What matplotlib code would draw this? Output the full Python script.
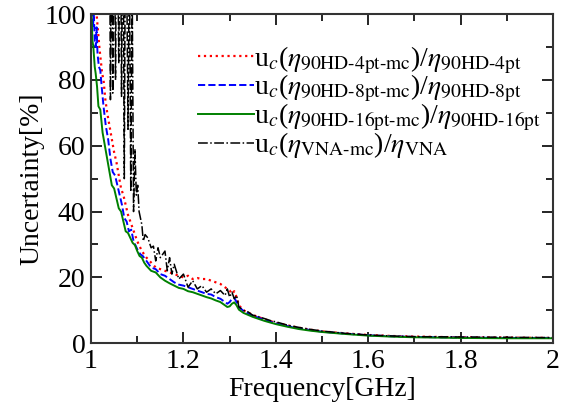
import matplotlib.pyplot as plt
from matplotlib.ticker import MultipleLocator

plt.rcParams['font.family'] = ['Liberation Serif', 'DejaVu Serif']
plt.rcParams['mathtext.fontset'] = 'stix'

# 4pt expanded uncertainty (red dotted)
f_4pt = [1.000, 1.012, 1.015, 1.018, 1.021, 1.024, 1.027, 1.031, 1.035, 1.040,
         1.045, 1.050, 1.055, 1.060, 1.065, 1.070, 1.075, 1.080, 1.085, 1.090,
         1.095, 1.100, 1.105, 1.110, 1.120, 1.130, 1.140, 1.150, 1.160, 1.170,
         1.180, 1.190, 1.200, 1.210, 1.220, 1.230, 1.240, 1.250, 1.260, 1.270,
         1.280, 1.290, 1.300, 1.305, 1.310, 1.315, 1.320, 1.330, 1.340, 1.350,
         1.375, 1.400, 1.425, 1.450, 1.475, 1.500, 1.550, 1.600, 1.650, 1.700,
         1.800, 1.900, 2.000]
u_4pt = [110, 100, 95, 90, 86, 82, 80, 74, 70, 66,
         62, 58, 55, 51, 47, 45, 42, 39, 37, 35,
         33, 31, 29.5, 28, 26, 24.5, 23, 22.5, 22, 21.5,
         21, 20.5, 20, 20.5, 19.5, 19.8, 19.5, 19.5, 19, 18.5,
         18, 17, 16, 15, 15.8, 14, 11.5, 10, 9.3, 8.6,
         7.3, 6.2, 5.4, 4.7, 4.1, 3.6, 3.0, 2.5, 2.2, 2.0,
         1.8, 1.7, 1.6]

# 8pt (blue dashed)
f_8pt = [1.000, 1.004, 1.006, 1.008, 1.010, 1.012, 1.014, 1.017, 1.020, 1.023,
         1.027, 1.032, 1.037, 1.042, 1.047, 1.052, 1.057, 1.062, 1.067, 1.072,
         1.077, 1.082, 1.087, 1.092, 1.097, 1.102, 1.107, 1.112, 1.120, 1.130,
         1.140, 1.150, 1.160, 1.170, 1.180, 1.190, 1.200, 1.210, 1.220, 1.230,
         1.240, 1.250, 1.260, 1.270, 1.280, 1.290, 1.295, 1.300, 1.305, 1.310,
         1.315, 1.320, 1.330, 1.340, 1.350, 1.375, 1.400, 1.425, 1.450, 1.475,
         1.500, 1.550, 1.600, 1.650, 1.700, 1.800, 1.900, 2.000]
u_8pt = [105, 96, 100, 92, 90, 96, 88, 84, 83, 78,
         72, 66, 62, 56, 52, 51, 48, 45, 42, 38,
         37, 34, 34.5, 31, 29.5, 28, 27, 26.5, 25, 23,
         22.5, 21, 20.5, 19.5, 18.5, 17.8, 17.5, 17, 16.5, 16,
         15.5, 15, 14.8, 14, 13.5, 12.5, 12, 12.5, 13.5, 13.8,
         12.5, 11, 9.8, 9, 8.4, 7.1, 6, 5.2, 4.5, 4,
         3.5, 2.9, 2.4, 2.1, 1.9, 1.7, 1.6, 1.6]

# 16pt (green solid)
f_16pt = [1.000, 1.003, 1.005, 1.008, 1.010, 1.013, 1.016, 1.020, 1.025, 1.030,
          1.035, 1.040, 1.045, 1.050, 1.055, 1.060, 1.065, 1.070, 1.075, 1.080,
          1.085, 1.090, 1.095, 1.100, 1.105, 1.110, 1.115, 1.120, 1.130, 1.140,
          1.150, 1.160, 1.170, 1.180, 1.190, 1.200, 1.210, 1.220, 1.230, 1.240,
          1.250, 1.260, 1.270, 1.280, 1.290, 1.295, 1.300, 1.305, 1.310, 1.315,
          1.320, 1.330, 1.340, 1.350, 1.375, 1.400, 1.425, 1.450, 1.475, 1.500,
          1.550, 1.600, 1.650, 1.700, 1.800, 1.900, 2.000]
u_16pt = [105, 92, 90, 84, 82, 78, 72, 71, 64, 60,
          56, 52, 48, 47, 44, 41, 40, 37, 34, 33.5,
          32, 30.5, 29.8, 28, 26.5, 26, 24.5, 23.5, 22, 21.5,
          20, 19, 18.2, 17.5, 16.8, 16.5, 15.8, 15.5, 15, 14.5,
          14, 13.6, 13, 12.5, 11.5, 11.0, 11.2, 12, 12.4, 11.5,
          10.2, 9.2, 8.6, 8, 6.8, 5.8, 5.0, 4.3, 3.8, 3.4,
          2.8, 2.3, 2.0, 1.8, 1.6, 1.5, 1.5]

# VNA (black dash-dot)
f_vna = [1.000, 1.040, 1.042, 1.044, 1.047, 1.050, 1.053, 1.056, 1.060, 1.063,
         1.066, 1.069, 1.072, 1.075, 1.080, 1.083, 1.086, 1.089, 1.092, 1.095,
         1.098, 1.101, 1.104, 1.110, 1.113, 1.117, 1.123, 1.130, 1.135, 1.140,
         1.145, 1.150, 1.160, 1.165, 1.170, 1.175, 1.180, 1.190, 1.200, 1.210,
         1.220, 1.230, 1.240, 1.250, 1.260, 1.270, 1.280, 1.290, 1.295, 1.300,
         1.305, 1.310, 1.315, 1.320, 1.330, 1.340, 1.350, 1.360, 1.375, 1.390,
         1.400, 1.425, 1.450, 1.475, 1.500, 1.550, 1.600, 1.650, 1.700, 1.800,
         1.900, 2.000]
u_vna = [300, 130, 74, 130, 76, 140, 80, 150, 85, 150,
         75, 140, 50, 150, 65, 120, 46, 110, 40, 59,
         45, 48, 40, 36, 31, 33, 32, 29, 29.5, 25,
         29, 26, 28, 22, 26, 21, 24, 19.5, 21, 17,
         19, 16.5, 17.5, 15.5, 16.5, 15, 16, 14.5, 16.5, 14,
         15.5, 13.5, 14.5, 11, 10, 9.5, 8.5, 8.2, 7.5, 6.8,
         6.5, 5.5, 4.8, 4.2, 3.7, 3.0, 2.5, 2.2, 2.0, 1.9,
         1.8, 1.7]

labels = [r'u$_{c}$($\eta_{\text{90HD-4pt-mc}}$)/$\eta_{\text{90HD-4pt}}$',
          r'u$_{c}$($\eta_{\text{90HD-8pt-mc}}$)/$\eta_{\text{90HD-8pt}}$',
          r'u$_{c}$($\eta_{\text{90HD-16pt-mc}}$)/$\eta_{\text{90HD-16pt}}$',
          r'u$_{c}$($\eta_{\text{VNA-mc}}$)/$\eta_{\text{VNA}}$']

fig = plt.figure(figsize=(5.69, 4.16), dpi=100)
ax = fig.add_axes([0.16, 0.175, 0.812, 0.791])

ax.plot(f_4pt, u_4pt, ':', color='red', lw=1.6, label=labels[0])
ax.plot(f_8pt, u_8pt, '--', color='blue', lw=1.4, label=labels[1])
ax.plot(f_16pt, u_16pt, '-', color='green', lw=1.4, label=labels[2])
ax.plot(f_vna, u_vna, '-.', color='black', lw=1.1, label=labels[3])

ax.set_xlim(1, 2)
ax.set_ylim(0, 100)
ax.xaxis.set_major_locator(MultipleLocator(0.2))
ax.xaxis.set_minor_locator(MultipleLocator(0.1))
ax.yaxis.set_major_locator(MultipleLocator(20))
ax.yaxis.set_minor_locator(MultipleLocator(10))
ax.xaxis.set_major_formatter(plt.FuncFormatter(lambda v, p: f'{v:g}'))

ax.tick_params(which='both', direction='in', top=True, right=True, labelsize=20, width=1.2)
ax.tick_params(which='major', length=8, pad=4)
ax.tick_params(which='minor', length=5)
for s in ax.spines.values():
    s.set_linewidth(1.5)
    s.set_color('#333333')

ax.set_xlabel('Frequency[GHz]', fontsize=20, labelpad=2)
ax.set_ylabel('Uncertainty[%]', fontsize=20, labelpad=0)

ax.legend(loc='upper right', bbox_to_anchor=(0.985, 0.925), frameon=False, fontsize=20,
          handlelength=2.0, handletextpad=0.0, labelspacing=-0.1, borderaxespad=0.0,
          borderpad=0.2)

fig.savefig('out.png', dpi=100)
